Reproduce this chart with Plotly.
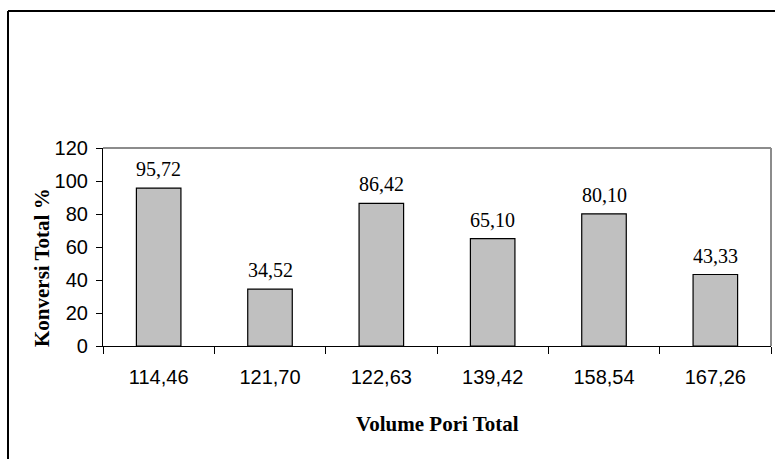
import plotly.graph_objects as go

# Total pore volume (category labels) and total conversion (%)
volume_pori = ["114,46", "121,70", "122,63", "139,42", "158,54", "167,26"]
konversi = [95.72, 34.52, 86.42, 65.10, 80.10, 43.33]
y_ticks = [0, 20, 40, 60, 80, 100, 120]

W, H = 775, 459
L, R, T, B = 103, 4, 148, 113
pw, ph = W - L - R, H - T - B


def px(x):
    return (x - L) / pw


def py(y):
    return (H - B - y) / ph


fig = go.Figure()
fig.add_trace(go.Bar(
    x=volume_pori,
    y=konversi,
    width=0.4,
    marker=dict(color="#C0C0C0", line=dict(color="black", width=1.2)),
    hoverinfo="skip",
))

# value labels above each bar
value_labels = [
    dict(x=c, y=v, xref="x", yref="y", text=f"{v:.2f}".replace(".", ","),
         showarrow=False, xanchor="center", yanchor="bottom", yshift=6,
         font=dict(family="Liberation Serif", size=20, color="black"))
    for c, v in zip(volume_pori, konversi)
]

fig.update_layout(
    width=W, height=H,
    margin=dict(l=L, r=R, t=T, b=B),
    paper_bgcolor="white", plot_bgcolor="white",
    showlegend=False,
    font=dict(family="Liberation Sans", size=20, color="black"),
    xaxis=dict(
        type="category",
        showline=True, linecolor="black", linewidth=1.2,
        ticks="outside", ticklen=7, tickcolor="black", tickwidth=1,
        tickson="boundaries",
        ticklabelstandoff=13,
        showgrid=False, zeroline=False,
        tickfont=dict(family="Liberation Sans", size=20, color="black"),
    ),
    yaxis=dict(
        range=[0, 120],
        tickvals=y_ticks,
        showline=True, linecolor="black", linewidth=1.2,
        ticks="outside", ticklen=6, tickcolor="black", tickwidth=1,
        ticklabelstandoff=4,
        showgrid=False, zeroline=False,
        tickfont=dict(family="Liberation Sans", size=20, color="black"),
    ),
    shapes=[
        # plot area top and right edges
        dict(type="line", xref="paper", yref="paper", x0=0, x1=1, y0=1, y1=1,
             line=dict(color="#8C8C8C", width=2)),
        dict(type="line", xref="paper", yref="paper", x0=1, x1=1, y0=0, y1=1,
             line=dict(color="#8C8C8C", width=2)),
        # outer chart frame
        dict(type="line", xref="paper", yref="paper", x0=px(8), x1=px(8), y0=py(11), y1=py(470),
             line=dict(color="black", width=2)),
        dict(type="line", xref="paper", yref="paper", x0=px(8), x1=px(790), y0=py(11), y1=py(11),
             line=dict(color="black", width=2)),
    ],
    annotations=value_labels + [
        dict(text="<b>Volume Pori Total</b>", xref="paper", yref="paper",
             x=px(437), y=py(424), showarrow=False, xanchor="center", yanchor="middle",
             font=dict(family="Liberation Serif", size=21, color="black")),
        dict(text="<b>Konversi Total %</b>", xref="paper", yref="paper",
             x=px(42), y=py(268), showarrow=False, textangle=-90,
             xanchor="center", yanchor="middle",
             font=dict(family="Liberation Serif", size=21, color="black")),
    ],
)

fig.write_html("out.html")
